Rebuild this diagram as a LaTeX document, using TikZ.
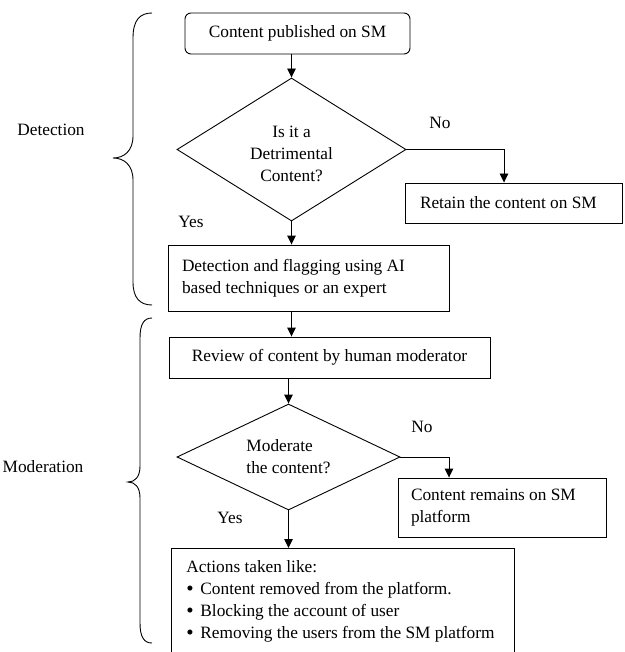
\documentclass[tikz,border=0pt]{standalone}
\usepackage{fontspec}
\setmainfont{Liberation Serif}
\usetikzlibrary{arrows.meta,shapes.geometric}
\newcommand{\listdot}{\makebox[14pt][l]{\raisebox{-0.6pt}{\fontsize{21}{21}\selectfont\textbullet}}}
\begin{document}
\begin{tikzpicture}[x=1pt,y=-1pt,
  every node/.style={font=\fontsize{17.3}{22}\selectfont},
  arr/.style={line width=0.9pt,-{Triangle[length=9pt,width=8.5pt]}},
  box/.style={draw,line width=0.9pt,rectangle,inner sep=0pt},
  decision/.style={draw,line width=0.9pt,diamond,inner sep=0pt,align=center},
  lbl/.style={inner sep=0pt},
  brace/.style={line width=0.9pt}]
\useasboundingbox (0,0) rectangle (624,652);
\clip (0,0) rectangle (624,652);

% --- process boxes and decisions ---
\node[box,rounded corners=6pt,minimum width=225pt,minimum height=41pt] (start) at (297.5,33.5) {Content published on SM};
\node[decision,aspect=1.6,minimum width=229pt,minimum height=143pt] (d1) at (291.5,149.5) {\rule{0pt}{20pt}Is it a\\Detrimental\\Content?};
\node[box,minimum width=217pt,minimum height=40pt,text width=187pt,inner xsep=15pt,align=flush left] (retain) at (513.5,203) {Retain the content on SM};
\node[box,text width=253pt,inner xsep=14pt,minimum height=66pt,align=flush left] (detect) at (308.5,278) {Detection and flagging using AI\\based techniques or an expert};
\node[box,minimum width=321pt,minimum height=41pt] (review) at (329.5,357.5) {Review of content by human moderator};
\node[decision,aspect=2.1,minimum width=223pt,minimum height=106pt,align=left] (d2) at (288.5,457) {Moderate\\the content?};
\node[box,text width=182pt,inner xsep=13pt,minimum height=59pt,align=flush left] (remains) at (502,507.5) {Content remains on SM\\platform};
\node[box,anchor=north west,text width=313pt,inner xsep=15pt,inner ysep=12pt,align=flush left] (actions) at (171,548)
  {Actions taken like:\\
   \mbox{\listdot Content removed from the platform.}\\
   \mbox{\listdot Blocking the account of user}\\
   \mbox{\listdot Removing the users from the SM platform}};

% --- branch labels ---
\node[lbl] (no1) at (440,123) {No};
\node[lbl] (yes1) at (191,222) {Yes};
\node[lbl] (no2) at (422,427) {No};
\node[lbl] (yes2) at (230,518) {Yes};

% --- phase labels ---
\node[lbl] (detlbl) at (51,130) {Detection};
\node[lbl] (modlbl) at (43,467) {Moderation};

% --- connectors ---
\draw[arr] (d1.north |- start.south) -- (d1.north);
\draw[arr] (d1.east) -| ([xshift=-9.5pt]retain.north);
\draw[arr] (d1.south) -- (d1.south |- detect.north);
\draw[arr] (d1.south |- detect.south) -- (d1.south |- review.north);
\draw[arr] (d2.north |- review.south) -- (d2.north);
\draw[arr] (d2.east) -| ([xshift=-53pt]remains.north);
\draw[arr] (d2.south) -- (d2.south |- actions.north);

% --- phase braces ---
\draw[brace] (152,13) .. controls (140,13) and (133,20) .. (133,38) -- (133,136)
  .. controls (133,151) and (124,158) .. (113,158)
  .. controls (124,158) and (133,165) .. (133,180) -- (133,282)
  .. controls (133,298) and (140,305) .. (152,305);
\draw[brace] (152,318) .. controls (144,318) and (140,324) .. (140,338) -- (140,466)
  .. controls (140,477) and (135,482) .. (128,482)
  .. controls (135,482) and (140,487) .. (140,498) -- (140,623)
  .. controls (140,637) and (144,643) .. (152,643);
\end{tikzpicture}
\end{document}
